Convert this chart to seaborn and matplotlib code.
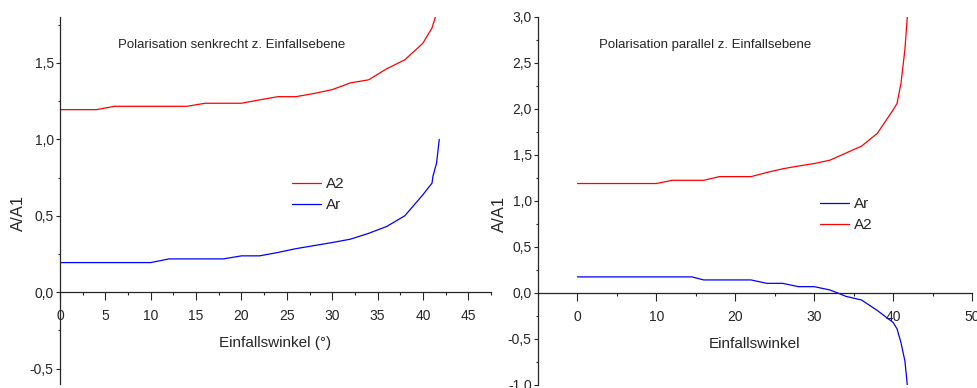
import pandas as pd
import matplotlib
matplotlib.use("Agg")
import matplotlib.pyplot as plt
from matplotlib.ticker import MultipleLocator, FuncFormatter
import seaborn as sns

# senkrecht (left panel)
s_a2_x = [0, 4, 6, 14, 16, 20, 22, 24, 26, 28, 30, 32, 34, 36, 38, 40, 41, 41.4, 41.8]
s_a2_y = [1.194, 1.194, 1.216, 1.216, 1.236, 1.236, 1.258, 1.279, 1.279, 1.30, 1.325,
          1.369, 1.389, 1.461, 1.52, 1.629, 1.729, 1.806, 2.0]
s_ar_x = [0, 10, 12, 18, 20, 22, 24, 26, 28, 30, 32, 34, 36, 38, 40, 41, 41.1, 41.5, 41.8]
s_ar_y = [0.194, 0.194, 0.218, 0.218, 0.238, 0.238, 0.26, 0.285, 0.305, 0.325, 0.347,
          0.385, 0.43, 0.50, 0.638, 0.714, 0.758, 0.845, 1.0]

# parallel (right panel)
p_a2_x = [0, 10, 12, 16, 18, 22, 24, 26, 28, 30, 32, 34, 36, 38, 40, 40.5, 41, 41.3, 41.5, 41.8]
p_a2_y = [1.19, 1.19, 1.225, 1.225, 1.265, 1.265, 1.31, 1.35, 1.38, 1.407, 1.444, 1.52,
          1.596, 1.735, 1.99, 2.06, 2.28, 2.5, 2.65, 3.0]
p_ar_x = [0, 14.5, 16, 22, 24, 26, 28, 30, 32, 33, 34, 36, 38, 40, 40.5, 41, 41.5, 41.8]
p_ar_y = [0.175, 0.175, 0.142, 0.142, 0.105, 0.105, 0.069, 0.069, 0.033, 0.0, -0.036,
          -0.076, -0.19, -0.32, -0.39, -0.54, -0.74, -1.0]

TITLE_S = "Polarisation senkrecht z. Einfallsebene"
TITLE_P = "Polarisation parallel z. Einfallsebene"

sns.set_style("ticks")
plt.rcParams["font.family"] = ["Liberation Sans", "DejaVu Sans"]


def long_frame(series):
    parts = []
    for name, xs, ys in series:
        parts.append(pd.DataFrame({"Einfallswinkel": xs, "A/A1": ys, "Serie": name}))
    return pd.concat(parts, ignore_index=True)


comma = FuncFormatter(lambda v, p: f"{v + 0.0:.1f}".replace(".", ","))
palette = {"A2": "#ff0000", "Ar": "#0000ff"}

fig = plt.figure(figsize=(9.77, 3.88), dpi=100)
ax1 = fig.add_axes([60 / 977, 1 - 384 / 388, 431 / 977, 367 / 388])
ax2 = fig.add_axes([538 / 977, 1 - 385 / 388, 434 / 977, 368 / 388])

df_s = long_frame([("A2", s_a2_x, s_a2_y), ("Ar", s_ar_x, s_ar_y)])
df_p = long_frame([("Ar", p_ar_x, p_ar_y), ("A2", p_a2_x, p_a2_y)])

sns.lineplot(data=df_s, x="Einfallswinkel", y="A/A1", hue="Serie", hue_order=["A2", "Ar"],
             palette=palette, estimator=None, linewidth=0.9, ax=ax1)
sns.lineplot(data=df_p, x="Einfallswinkel", y="A/A1", hue="Serie", hue_order=["Ar", "A2"],
             palette=palette, estimator=None, linewidth=0.9, ax=ax2)

ax1.set_xlim(0, 47.5)
ax1.set_ylim(-0.6, 1.8)
ax2.set_xlim(-5, 50)
ax2.set_ylim(-1.0, 3.0)

for ax, xmaj, xmin, xlab, ylab_x, title, tx in [
    (ax1, 5, 2.5, "Einfallswinkel (°)", -0.097, TITLE_S, 118),
    (ax2, 10, 5, "Einfallswinkel", -0.088, TITLE_P, 599),
]:
    for side in ["top", "right"]:
        ax.spines[side].set_visible(False)
    ax.spines["bottom"].set_position(("data", 0))
    ax.spines["bottom"].set_linewidth(0.9)
    ax.spines["left"].set_linewidth(0.9)
    ax.xaxis.set_major_locator(MultipleLocator(xmaj))
    ax.xaxis.set_minor_locator(MultipleLocator(xmin))
    ax.yaxis.set_major_locator(MultipleLocator(0.5))
    ax.yaxis.set_minor_locator(MultipleLocator(0.25))
    ax.yaxis.set_major_formatter(comma)
    ax.tick_params(axis="x", which="major", direction="out", length=6, width=0.8,
                   pad=6, labelsize=10)
    ax.tick_params(axis="x", which="minor", direction="out", length=2.5, width=0.8)
    ax.tick_params(axis="y", which="major", direction="out", length=3, width=0.8,
                   pad=1.5, labelsize=10)
    ax.tick_params(axis="y", which="minor", direction="out", length=1.5, width=0.8)

    ax.set_xlabel(xlab, fontsize=11)
    ax.xaxis.set_label_coords(0.5, 0.112)
    ax.xaxis.label.set_va("center")
    ax.set_ylabel("A/A1", fontsize=12)
    ax.yaxis.set_label_coords(ylab_x, 0.465)
    ax.yaxis.label.set_va("center")

    fig.text(tx / 977, 1 - 45 / 388, title, fontsize=9.5, ha="left", va="center")

for ax, lx, ly in [(ax1, 292, 177), (ax2, 820, 197)]:
    handles, labels = ax.get_legend_handles_labels()
    ax.legend(handles, labels, loc="upper left", frameon=False, fontsize=11,
              bbox_to_anchor=(lx / 977, 1 - ly / 388), bbox_transform=fig.transFigure,
              borderpad=0, borderaxespad=0, handlelength=1.9, handletextpad=0.3,
              labelspacing=0.45)

fig.savefig("out.png", dpi=100)
